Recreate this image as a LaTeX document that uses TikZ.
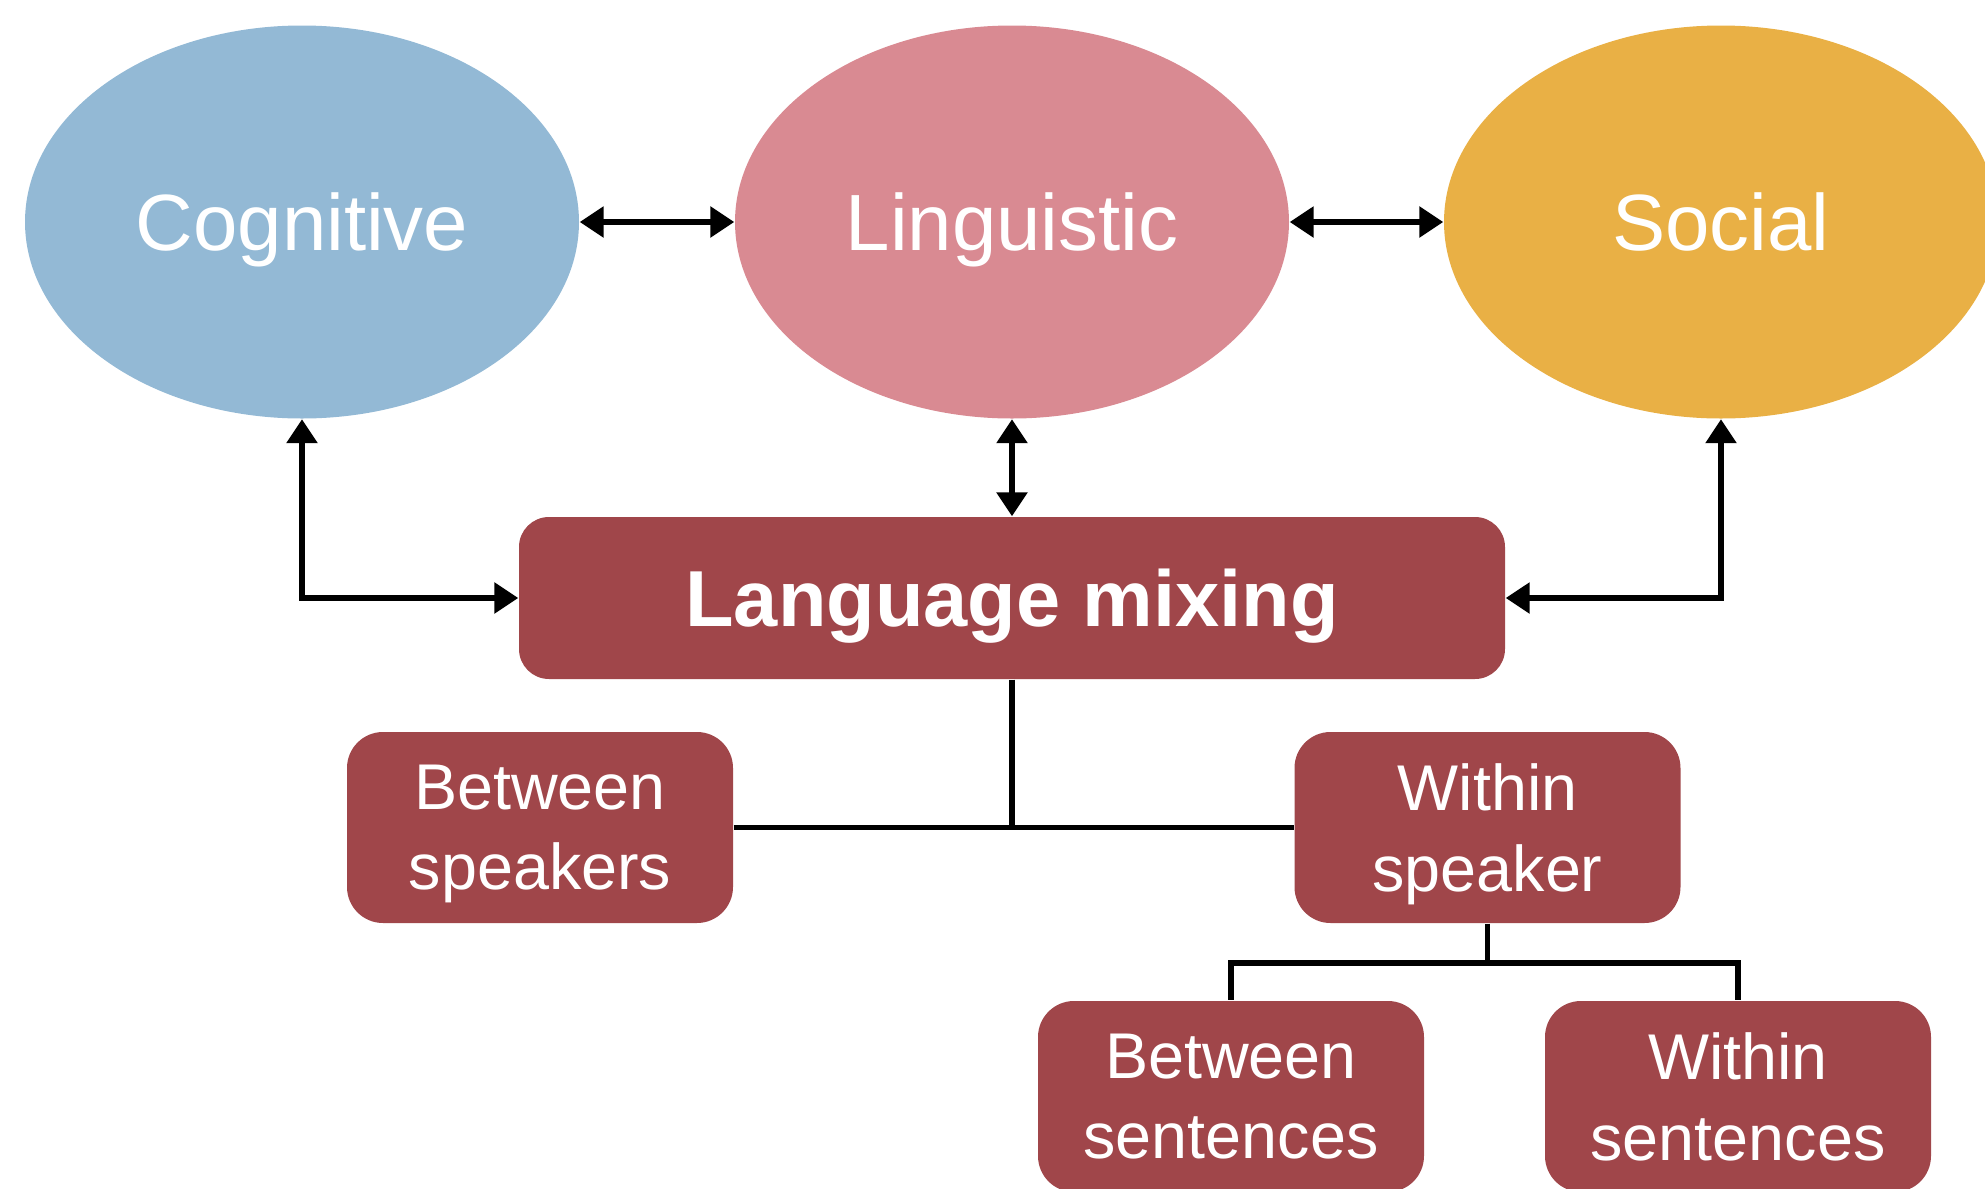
\documentclass[tikz,border=0pt]{standalone}
\usepackage{fontspec}
\setmainfont{Liberation Sans}
\usetikzlibrary{shapes.geometric,arrows.meta,calc}
\definecolor{cogblue}{HTML}{93B9D5}
\definecolor{lingpink}{HTML}{D98A92}
\definecolor{socgold}{HTML}{E9B045}
\definecolor{boxred}{HTML}{A0464A}
\tikzset{
  oval/.style={ellipse, minimum width=5.54cm, minimum height=3.93cm, inner sep=0pt,
    text=white, text depth=0pt, font=\fontsize{22.7}{27}\selectfont},
  mainbox/.style={rectangle, rounded corners=0.3cm, fill=boxred, text=white,
    minimum width=9.86cm, minimum height=1.62cm, inner sep=0pt, text depth=0pt,
    font=\fontsize{22.6}{27}\selectfont\bfseries},
  subbox/.style={rectangle, rounded corners=0.36cm, fill=boxred, text=white,
    minimum width=3.86cm, minimum height=1.91cm, inner sep=0pt, align=center,
    text depth=0pt, font=\fontsize{18.4}{22.8}\selectfont},
  link/.style={line width=1.6pt, draw=black},
  biarrow/.style={link, {Triangle[length=0.24cm,width=0.3cm]}-{Triangle[length=0.24cm,width=0.3cm]}},
  tree/.style={link, line join=miter}
}
\begin{document}
\begin{tikzpicture}
\useasboundingbox (0,0) rectangle (19.85,-11.89);
\node[oval, fill=cogblue] (cog) at (3.02,-2.22) {Cognitive};
\node[oval, fill=lingpink] (ling) at (10.12,-2.22) {Linguistic};
\node[oval, fill=socgold] (soc) at (17.21,-2.22) {Social};
\node[mainbox] (lm) at (10.12,-5.98) {Language mixing};
\node[subbox] (bspk) at (5.40,-8.275) {Between\\speakers};
\node[subbox] (wspk) at (14.875,-8.275) {Within\\speaker};
\node[subbox] (bsen) at (12.31,-10.965) {Between\\sentences};
\node[subbox] (wsen) at (17.38,-10.965) {Within\\sentences};
\coordinate (split) at ($(wspk.south)+(0,-0.39)$);
\draw[biarrow] (cog.east) -- (ling.west);
\draw[biarrow] (ling.east) -- (soc.west);
\draw[biarrow] (cog.south) |- (lm.west);
\draw[biarrow] (soc.south) |- (lm.east);
\draw[biarrow] (ling.south) -- (lm.north);
\draw[tree] (lm.south) -- (lm.south |- bspk.east);
\draw[tree] (bspk.east) -- (wspk.west);
\draw[tree] (wspk.south) -- (split);
\draw[tree] (split) -| (bsen.north);
\draw[tree] (split) -| (wsen.north);
\end{tikzpicture}
\end{document}
